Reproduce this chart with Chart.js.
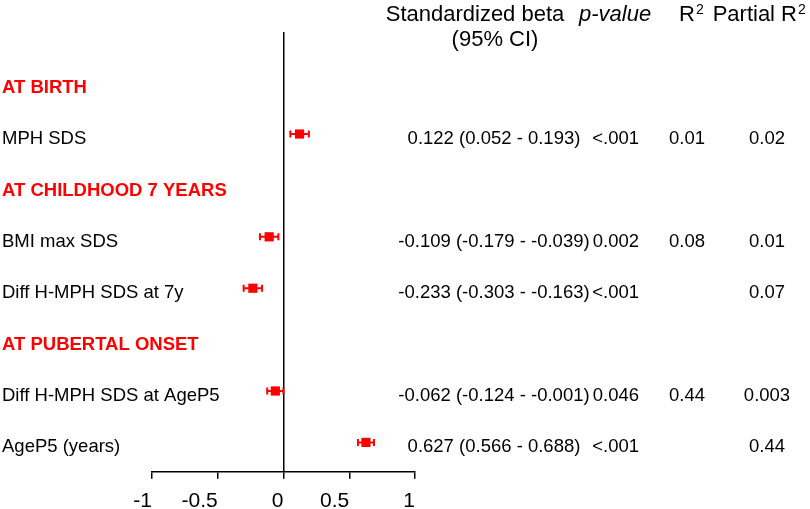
<!DOCTYPE html>
<html>
<head>
<meta charset="utf-8">
<script src="https://cdn.jsdelivr.net/npm/chart.js@4"></script>
<style>
  body { margin: 0; background: #fff; }
  #wrap { width: 810px; height: 509px; position: relative; }
</style>
</head>
<body>
<div id="wrap"><canvas id="forest"></canvas></div>
<script>
// rows of the forest plot, top to bottom
const rowLabels = ['AT BIRTH', 'MPH SDS', 'AT CHILDHOOD 7 YEARS', 'BMI max SDS',
  'Diff H-MPH SDS at 7y', 'AT PUBERTAL ONSET', 'Diff H-MPH SDS at AgeP5', 'AgeP5 (years)'];
const rowIsGroup = [true, false, true, false, false, true, false, false];
const beta = [null, 0.122, null, -0.109, -0.233, null, -0.062, 0.627];
const ciLow = [null, 0.052, null, -0.179, -0.303, null, -0.124, 0.566];
const ciHigh = [null, 0.193, null, -0.039, -0.163, null, -0.001, 0.688];
const betaText = ['', '0.122 (0.052 - 0.193)', '', '-0.109 (-0.179 - -0.039)',
  '-0.233 (-0.303 - -0.163)', '', '-0.062 (-0.124 - -0.001)', '0.627 (0.566 - 0.688)'];
const pText = ['', '<.001', '', '0.002', '<.001', '', '0.046', '<.001'];
const r2Text = ['', '0.01', '', '0.08', '', '', '0.44', ''];
const partialR2Text = ['', '0.02', '', '0.01', '0.07', '', '0.003', '0.44'];
const xTicks = [-1, -0.5, 0, 0.5, 1];

const RED = '#ff0000';
const FONT = '"Liberation Sans", Arial, sans-serif';

const points = [];
beta.forEach((b, i) => { if (b !== null) points.push({ x: b, y: i }); });

// whiskers for the confidence intervals
const ciBars = {
  id: 'ciBars',
  beforeDatasetsDraw(chart) {
    const { ctx, scales: { x, y } } = chart;
    ctx.save();
    ctx.strokeStyle = RED;
    ctx.lineWidth = 2;
    beta.forEach((b, i) => {
      if (b === null) return;
      const py = y.getPixelForValue(i);
      const x1 = x.getPixelForValue(ciLow[i]);
      const x2 = x.getPixelForValue(ciHigh[i]);
      ctx.beginPath();
      ctx.moveTo(x1, py); ctx.lineTo(x2, py);
      ctx.moveTo(x1, py - 3.5); ctx.lineTo(x1, py + 3.5);
      ctx.moveTo(x2, py - 3.5); ctx.lineTo(x2, py + 3.5);
      ctx.stroke();
    });
    ctx.restore();
  }
};

// labels on the left and the table on the right
const tableText = {
  id: 'tableText',
  afterDraw(chart) {
    const { ctx, scales: { y } } = chart;
    ctx.save();
    ctx.textBaseline = 'middle';
    rowLabels.forEach((lab, i) => {
      const py = y.getPixelForValue(i) + 5;
      ctx.textAlign = 'left';
      if (rowIsGroup[i]) {
        ctx.fillStyle = RED;
        ctx.font = 'bold 18.5px ' + FONT;
      } else {
        ctx.fillStyle = '#000';
        ctx.font = '18.5px ' + FONT;
      }
      ctx.fillText(lab, 2, py);
      ctx.fillStyle = '#000';
      ctx.font = '18.5px ' + FONT;
      ctx.textAlign = 'center';
      ctx.fillText(betaText[i], 494, py);
      ctx.textAlign = 'right';
      ctx.fillText(pText[i], 639, py);
      ctx.textAlign = 'center';
      ctx.fillText(r2Text[i], 687, py);
      ctx.fillText(partialR2Text[i], 767, py);
    });

    // column headers
    ctx.textBaseline = 'alphabetic';
    ctx.fillStyle = '#000';
    ctx.font = '22px ' + FONT;
    ctx.textAlign = 'center';
    ctx.fillText('Standardized beta', 475, 21);
    ctx.fillText('(95% CI)', 495, 46);
    ctx.font = 'italic 22px ' + FONT;
    ctx.textAlign = 'left';
    ctx.fillText('p-value', 579, 21);
    ctx.font = '22px ' + FONT;
    ctx.textAlign = 'right';
    ctx.fillText('R', 695, 21);
    ctx.fillText('Partial R', 797, 21);
    ctx.font = '14px ' + FONT;
    ctx.textAlign = 'left';
    ctx.fillText('2', 696, 13.5);
    ctx.fillText('2', 798, 13.5);
    ctx.restore();
  }
};

new Chart(document.getElementById('forest'), {
  type: 'scatter',
  data: {
    datasets: [{
      data: points,
      pointStyle: 'rect',
      pointRadius: 6.5,
      backgroundColor: RED,
      borderColor: RED,
      borderWidth: 0,
      clip: false
    }]
  },
  options: {
    responsive: true,
    maintainAspectRatio: false,
    animation: false,
    layout: { padding: { left: 152, right: 395, top: 32, bottom: 0 } },
    plugins: { legend: { display: false }, tooltip: { enabled: false } },
    scales: {
      x: {
        type: 'linear',
        min: -1,
        max: 1,
        afterBuildTicks: s => { s.ticks = xTicks.map(v => ({ value: v })); },
        afterFit: s => { s.height = 37.3; },
        border: { display: true, color: '#000', width: 1.5 },
        grid: {
          color: c => (c.tick && c.tick.value === 0 ? '#000' : 'rgba(0,0,0,0)'),
          tickColor: '#000',
          lineWidth: 1.5,
          tickLength: 7
        },
        ticks: {
          color: '#000',
          padding: 9.5,
          align: 'end',
          font: { family: FONT, size: 21 },
          callback: v => String(v)
        }
      },
      y: {
        type: 'linear',
        display: false,
        reverse: true,
        min: -0.985,
        max: 7.57
      }
    }
  },
  plugins: [ciBars, tableText]
});
</script>
</body>
</html>
